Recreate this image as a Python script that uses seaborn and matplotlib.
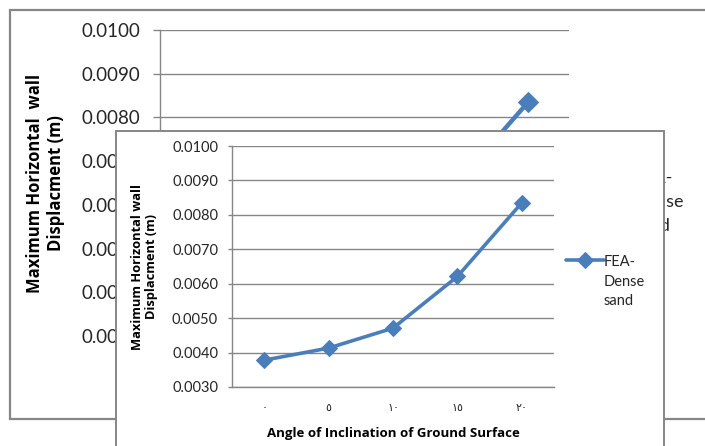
import matplotlib
matplotlib.use("Agg")
import matplotlib.pyplot as plt
import seaborn as sns
import pandas as pd
from matplotlib.patches import Rectangle
from matplotlib.ticker import FormatStrFormatter

# ---- data ----
angles = ["٠", "٥", "١٠", "١٥", "٢٠"]          # angle of inclination (0,5,10,15,20) in Arabic-Indic digits
displacement = [0.00378, 0.00413, 0.00471, 0.00621, 0.00835]
series_name = "FEA-\nDense\nsand"
y_ticks = [0.0030, 0.0040, 0.0050, 0.0060, 0.0070, 0.0080, 0.0090, 0.0100]
y_label = "Maximum Horizontal  wall\nDisplacment (m)"
y_label_small = "Maximum Horizontal wall\nDisplacment (m)"
x_label = "Angle of Inclination of Ground Surface"

df = pd.DataFrame({"angle": angles, "disp": displacement, "series": series_name})

sns.set_style("white")
plt.rcParams["font.family"] = ["Lato", "DejaVu Sans"]
BOLD = ["Open Sans", "DejaVu Sans"]

W, H = 705, 446
fig = plt.figure(figsize=(W / 100, H / 100), dpi=100)

def fx(px):
    return px / W

def fy(py):
    return 1 - py / H

def axrect(l, t, r, b):
    return [fx(l), fy(b), fx(r) - fx(l), fy(t) - fy(b)]

LINE = "#4A7EBB"
GRID = "#868686"
TXT = "#262626"

def style_axes(ax, tick_fs, tick_len, pad):
    ax.set_xlim(-0.5, len(angles) - 0.5)
    ax.set_ylim(y_ticks[0], y_ticks[-1])
    ax.set_yticks(y_ticks)
    ax.yaxis.set_major_formatter(FormatStrFormatter("%.4f"))
    ax.grid(axis="y", color=GRID, linewidth=1.0)
    ax.grid(axis="x", visible=False)
    for s in ["top", "right"]:
        ax.spines[s].set_visible(False)
    for s in ["left", "bottom"]:
        ax.spines[s].set_color(GRID)
        ax.spines[s].set_linewidth(1.0)
    ax.tick_params(axis="y", which="major", length=tick_len, width=1.0, color=GRID,
                   direction="out", left=True, labelsize=tick_fs, labelcolor=TXT, pad=pad)
    ax.set_axisbelow(True)

def top_align_legend(leg):
    for col in leg._legend_handle_box.get_children():
        for item in col.get_children():
            item.align = "top"

# ---- background chart ----
bg_frame = Rectangle((fx(10), fy(419)), fx(760) - fx(10), fy(10) - fy(419),
                     transform=fig.transFigure, facecolor="white", edgecolor=GRID,
                     linewidth=1.6, zorder=0.5)
fig.patches.append(bg_frame)

ax_bg = fig.add_axes(axrect(160, 30, 569, 336))
ax_bg.set_zorder(1)
ax_bg.patch.set_alpha(0)
sns.lineplot(data=df, x="angle", y="disp", hue="series", palette=[LINE], marker="D",
             markersize=10, linewidth=3.2, markeredgecolor=LINE, ax=ax_bg, sort=False)
style_axes(ax_bg, 13.5, 5, 9)
ax_bg.tick_params(axis="x", labelsize=9, length=0)
ax_bg.set_xlabel("")
ax_bg.set_ylabel(y_label, fontsize=12, fontweight="bold", family=BOLD, color="black",
                 labelpad=12, linespacing=1.2)
leg_bg = ax_bg.legend(loc="upper left", bbox_to_anchor=(fx(585), fy(170)),
                      bbox_transform=fig.transFigure, frameon=False, fontsize=13,
                      handlelength=2.6, handletextpad=0.1, borderaxespad=0, borderpad=0)
for t in leg_bg.get_texts():
    t.set_linespacing(1.62)
    t.set_color(TXT)
top_align_legend(leg_bg)

# ---- inset chart ----
in_frame = Rectangle((fx(116), fy(470)), fx(664) - fx(116), fy(131) - fy(470),
                     transform=fig.transFigure, facecolor="white", edgecolor=GRID,
                     linewidth=1.4, zorder=2)
fig.patches.append(in_frame)

ax_in = fig.add_axes(axrect(232, 146, 554, 387))
ax_in.set_zorder(3)
ax_in.patch.set_alpha(0)
sns.lineplot(data=df, x="angle", y="disp", hue="series", palette=[LINE], marker="D",
             markersize=8, linewidth=2.6, markeredgecolor=LINE, ax=ax_in, sort=False)
style_axes(ax_in, 10.5, 3, 7)
ax_in.tick_params(axis="x", labelsize=8, length=0, labelcolor=TXT, pad=11)
ax_in.set_xlabel(x_label, fontsize=9.5, fontweight="bold", family=BOLD, color="black",
                 labelpad=10)
ax_in.set_ylabel(y_label_small, fontsize=9.3, fontweight="bold", family=BOLD, color="black",
                 labelpad=10, linespacing=1.15)
leg_in = ax_in.legend(loc="upper left", bbox_to_anchor=(fx(566), fy(255)),
                      bbox_transform=fig.transFigure, frameon=False, fontsize=10.5,
                      handlelength=2.6, handletextpad=0.0, borderaxespad=0, borderpad=0)
for t in leg_in.get_texts():
    t.set_linespacing(1.5)
    t.set_color(TXT)
top_align_legend(leg_in)

fig.savefig("out.png", dpi=100)
